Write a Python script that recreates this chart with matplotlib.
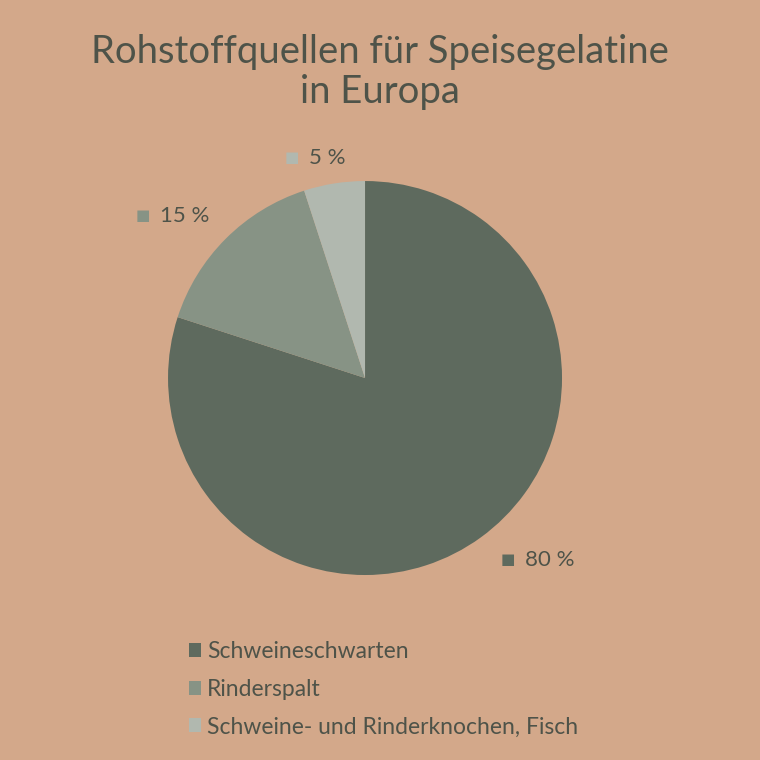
import numpy as np
import matplotlib
matplotlib.use("Agg")
import matplotlib.pyplot as plt

# ── Data ──────────────────────────────────────────────────────────────
categories = ["Schweineschwarten", "Rinderspalt", "Schweine- und Rinderknochen, Fisch"]
shares     = [80, 15, 5]
pct_labels = ["80 %", "15 %", "5 %"]
title      = "Rohstoffquellen für Speisegelatine\nin Europa"

BG     = "#D3A88A"
TEXT   = "#4E5349"
COLORS = ["#5E6A5E", "#879385", "#B1B8AF"]
FONT   = ["Lato", "DejaVu Sans"]

fig = plt.figure(figsize=(7.6, 7.6), dpi=100, facecolor=BG)
ax = fig.add_axes([0.2211, 0.2434, 0.5184, 0.5184])
ax.set_facecolor(BG)

wedges, _ = ax.pie(shares, colors=COLORS, startangle=90, counterclock=False,
                   radius=1.0, wedgeprops=dict(linewidth=0))
ax.set_xlim(-1, 1)
ax.set_ylim(-1, 1)
ax.set_aspect("equal")
ax.axis("off")

# percentage labels outside the wedges (angle offset, radius per label)
label_tweaks = [(2.2, 1.175), (8.9, 1.395), (9.4, 1.177)]
for w, lab, col, (dang, rad) in zip(wedges, pct_labels, COLORS, label_tweaks):
    mid = np.deg2rad((w.theta1 + w.theta2) / 2 + dang)
    x, y = rad * np.cos(mid), rad * np.sin(mid)
    ax.text(x, y, "■", color=col, fontsize=11, ha="center", va="center",
            family=FONT, clip_on=False)
    ax.text(x + 0.085, y, lab, color=TEXT, fontsize=16, ha="left", va="center",
            family=FONT, clip_on=False)

fig.text(0.5, 0.905, title, ha="center", va="center", color=TEXT,
         fontsize=27.5, family=FONT, linespacing=1.15)

fig.legend(wedges, categories, loc="upper left", bbox_to_anchor=(0.236, 0.168),
           bbox_transform=fig.transFigure, frameon=False,
           prop=dict(family=FONT, size=16.5),
           handlelength=0.55, handleheight=0.55, handletextpad=0.25,
           labelspacing=0.72, labelcolor=TEXT, borderaxespad=0)

fig.savefig("out.png", dpi=100, facecolor=BG)
